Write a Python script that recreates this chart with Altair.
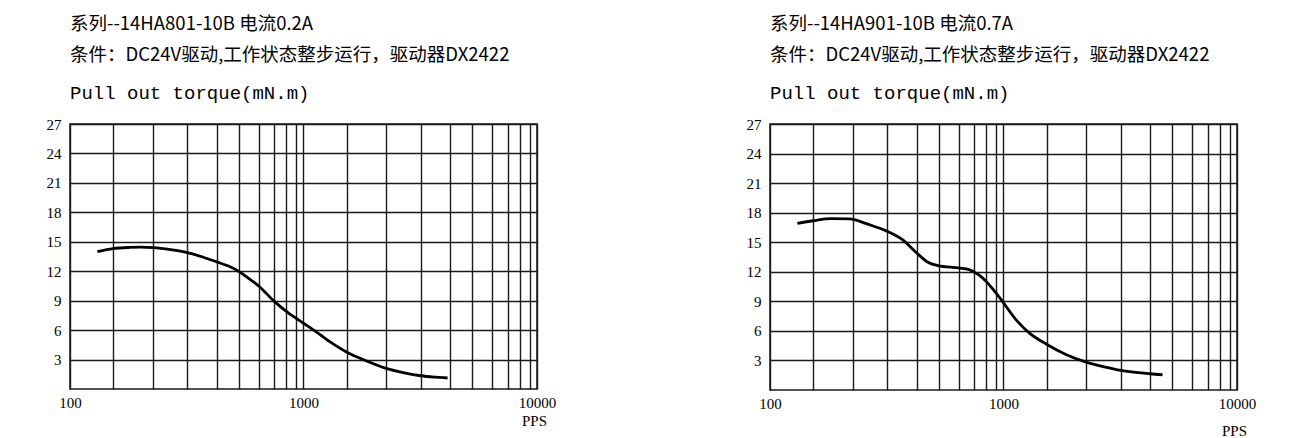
import altair as alt
import pandas as pd

# ---- data ----
pps_left = [131, 153, 180, 201, 227, 270, 318, 370, 425, 480, 527, 580, 643, 748, 844,
            1000, 1110, 1300, 1535, 1820, 2260, 2700, 3180, 3700, 4140]
torque_left = [14.0, 14.3, 14.42, 14.45, 14.41, 14.2, 13.9, 13.45, 12.95, 12.5, 12.0,
               11.3, 10.5, 8.95, 7.9, 6.7, 5.98, 4.8, 3.75, 2.95, 2.1, 1.65, 1.35,
               1.2, 1.12]

pps_right = [131, 153, 182, 218, 266, 318, 369, 425, 472, 525, 643, 713, 787,
             841, 928, 1000, 1130, 1288, 1535, 1850, 2260, 2700, 3180, 4250, 4800]
torque_right = [16.92, 17.18, 17.39, 17.36, 16.78, 16.1, 15.26, 13.91, 13.0, 12.63,
                12.39, 12.22, 11.65, 11.04, 9.86, 8.85, 7.15, 5.8, 4.62, 3.61,
                2.83, 2.35, 1.99, 1.65, 1.55]

# grid lines of the printed chart paper (one decade pattern, repeated)
x_grid = [100, 153, 226, 318, 425, 527, 643, 748, 845, 931,
          1000, 1530, 2260, 3180, 4250, 5270, 6430, 7480, 8450, 9310, 10000]
x_labels = [100, 1000, 10000]
y_ticks = [3, 6, 9, 12, 15, 18, 21, 24, 27]

title_left = ["系列--14HA801-10B 电流0.2A", "条件：DC24V驱动,工作状态整步运行，驱动器DX2422"]
title_right = ["系列--14HA901-10B 电流0.7A", "条件：DC24V驱动,工作状态整步运行，驱动器DX2422"]
subtitle = "Pull out torque(mN.m)"

label_expr = "indexof([100, 1000, 10000], datum.value) >= 0 ? '' + datum.value : ''"


def panel(pps, torque, title_lines, w, h, pps_y):
    df = pd.DataFrame({"pps": pps, "torque": torque})
    return alt.Chart(df).mark_line(
        color="black", strokeWidth=2.8, interpolate="monotone"
    ).encode(
        x=alt.X("pps:Q",
                scale=alt.Scale(type="log", domain=[100, 10000], nice=False),
                axis=alt.Axis(values=x_grid, labelExpr=label_expr, title="PPS",
                              grid=True, ticks=False, domain=False,
                              labelOverlap=False, labelFlush=False,
                              labelPadding=6, labelFont="Liberation Serif",
                              labelFontSize=15, labelColor="black",
                              titleFont="Liberation Serif", titleFontSize=15,
                              titleFontWeight="normal", titleColor="black",
                              titleAnchor="end", titleAlign="center",
                              titleBaseline="middle",
                              titleX=w - 3, titleY=pps_y)),
        y=alt.Y("torque:Q",
                scale=alt.Scale(domain=[0, 27], nice=False),
                axis=alt.Axis(values=y_ticks, title=None, grid=True, ticks=False,
                              domain=False, labelPadding=9,
                              labelFont="Liberation Serif", labelFontSize=15,
                              labelColor="black")),
    ).properties(
        width=w, height=h,
        title=alt.TitleParams(
            text=title_lines, subtitle=subtitle, anchor="start", frame="group",
            font="Noto Sans CJK SC", fontSize=18.5, fontWeight="normal",
            color="black", lineHeight=31,
            subtitleFont="Liberation Mono", subtitleFontSize=19,
            subtitleColor="black", subtitlePadding=20, offset=14),
    )


left = panel(pps_left, torque_left, title_left, 467, 265, 31)
right = panel(pps_right, torque_right, title_right, 467, 266, 40)

chart = alt.hconcat(left, right, spacing=188).configure(
    padding={"left": 37, "top": 5, "right": 0, "bottom": 0}
).configure_view(
    stroke="#1a1a1a", strokeWidth=1.5
).configure_axis(
    gridColor="#1a1a1a", gridWidth=1.4, gridOpacity=1
).configure_title(
    subtitleFontWeight="normal"
)

chart.save("out.html", embed_options={"renderer": "svg", "actions": False})
